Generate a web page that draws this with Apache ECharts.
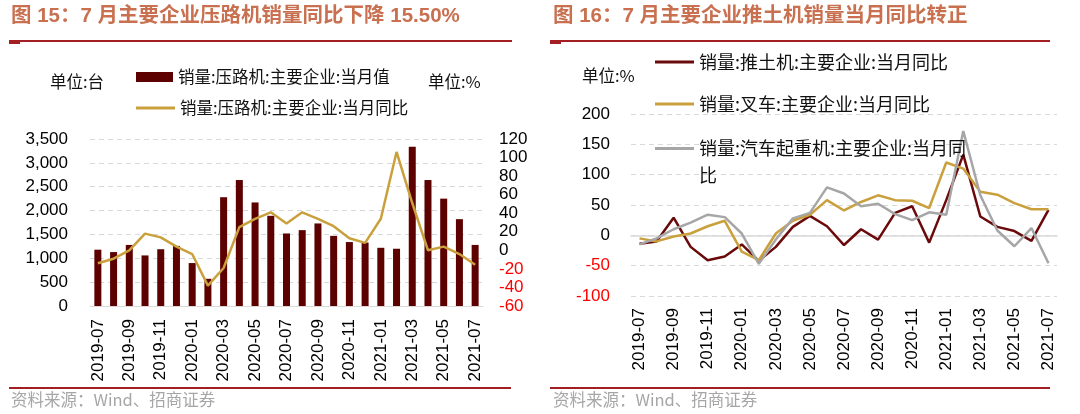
<!DOCTYPE html>
<html>
<head>
<meta charset="utf-8">
<script src="https://cdn.jsdelivr.net/npm/echarts@6/dist/echarts.min.js"></script>
<style>
  html, body { margin: 0; padding: 0; background: #fff; }
  #main { width: 1080px; height: 414px; }
</style>
</head>
<body>
<div id="main"></div>
<script>
// 月份
var months = ['2019-07','2019-08','2019-09','2019-10','2019-11','2019-12','2020-01','2020-02','2020-03','2020-04','2020-05','2020-06','2020-07','2020-08','2020-09','2020-10','2020-11','2020-12','2021-01','2021-02','2021-03','2021-04','2021-05','2021-06','2021-07'];

// 图15 压路机
var rollerSales = [1180, 1130, 1280, 1060, 1190, 1260, 900, 570, 2280, 2640, 2170, 1890, 1520, 1590, 1730, 1470, 1340, 1330, 1220, 1200, 3340, 2640, 2250, 1820, 1280];
var rollerYoy = [-14, -9, 0, 18, 14, 4, -4, -38, -19, 25, 34, 41, 29, 41, 34, 26, 13, 8, 34, 106, 51, 0, 4, -4, -15.5];

// 图16 推土机 / 叉车 / 汽车起重机
var dozerYoy = [-14, -10, 29, -19, -41, -35, -15, -42, -19, 14, 32, 15, -16, 10, -7, 37, 48, -12, 58, 133, 31, 14, 7, -9, 42];
var forkliftYoy = [-5, -10, -2, 3, 15, 24, -27, -41, 3, 24, 34, 58, 41, 55, 66, 58, 57, 45, 120, 110, 72, 67, 53, 43, 43];
var craneYoy = [-15, -5, 10, 21, 34, 30, 3, -47, -7, 28, 37, 79, 69, 48, 52, 35, 25, 38, 34, 172, 66, 8, -18, 12, -46];

var names = {
  rollerSales: '销量:压路机:主要企业:当月值',
  rollerYoy: '销量:压路机:主要企业:当月同比',
  dozer: '销量:推土机:主要企业:当月同比',
  forklift: '销量:叉车:主要企业:当月同比',
  crane: '销量:汽车起重机:主要企业:当月同比'
};

var NUM_FONT = 'Liberation Sans, Arial, Noto Sans CJK SC';
var CJK_FONT = 'Noto Sans CJK SC';
var RED_LINE = '#a31f24';
var GRID_LINE = '#d9d9d9';
var GOLD = '#c9a03c';
var MAROON = '#5c0000';

function negRed(v) {
  return Number(v) < 0 ? '#ff0000' : '#000000';
}

var monthLabel = {
  rotate: 90,
  interval: 1,
  fontSize: 17,
  fontFamily: NUM_FONT,
  color: '#000',
  margin: 12
};

// 图例：线条用细矩形表示
function lineLegend(name, left, top, size, lh) {
  return {
    data: [name],
    left: left, top: top, orient: 'vertical',
    icon: 'rect', itemWidth: 39, itemHeight: 3,
    textStyle: { fontSize: size, lineHeight: lh, fontFamily: CJK_FONT, color: '#111' }
  };
}

var chart = echarts.init(document.getElementById('main'), null, { renderer: 'canvas' });

var craneLegend = lineLegend(names.crane, 650, 103, 18, 27);
// 第三项换行，空首行让图标对齐第一行文字
craneLegend.formatter = function (name) {
  return '\n' + name.slice(0, name.length - 1) + '\n' + name.slice(name.length - 1);
};

var option = {
  backgroundColor: '#ffffff',
  animation: false,
  grid: [
    { left: 90, right: 597, top: 139, bottom: 108 },
    { left: 631, right: 23, top: 114, bottom: 118 }
  ],
  xAxis: [
    {
      gridIndex: 0,
      type: 'category',
      data: months,
      boundaryGap: true,
      axisLine: { onZero: false, lineStyle: { color: GRID_LINE, width: 1 } },
      axisTick: { interval: 1, length: 5, lineStyle: { color: GRID_LINE } },
      axisLabel: Object.assign({}, monthLabel, { margin: 13 }),
      splitLine: { show: false }
    },
    {
      // 右图：标签在底部
      gridIndex: 1,
      type: 'category',
      data: months,
      position: 'bottom',
      boundaryGap: true,
      axisLine: { show: false, onZero: false },
      axisTick: { show: false },
      axisLabel: monthLabel,
      splitLine: { show: false }
    },
    {
      // 右图：零轴
      gridIndex: 1,
      type: 'category',
      data: months,
      position: 'bottom',
      boundaryGap: true,
      axisLine: { onZero: true, lineStyle: { color: GRID_LINE, width: 1.5 } },
      axisTick: { interval: 1, length: 4, lineStyle: { color: GRID_LINE } },
      axisLabel: { show: false },
      splitLine: { show: false }
    }
  ],
  yAxis: [
    {
      gridIndex: 0,
      type: 'value',
      min: 0,
      max: 3500,
      interval: 500,
      axisLine: { show: false },
      axisTick: { show: false },
      axisLabel: {
        fontSize: 17,
        fontFamily: NUM_FONT,
        color: '#000',
        margin: 22,
        formatter: function (v) { return echarts.format.addCommas(v); }
      },
      splitLine: { lineStyle: { color: GRID_LINE, type: [5, 4] } }
    },
    {
      gridIndex: 0,
      type: 'value',
      position: 'right',
      min: -60,
      max: 120,
      interval: 20,
      axisLine: { show: false },
      axisTick: { show: false },
      axisLabel: { fontSize: 17, fontFamily: NUM_FONT, color: negRed, margin: 16 },
      splitLine: { show: false }
    },
    {
      gridIndex: 1,
      type: 'value',
      min: -100,
      max: 200,
      interval: 50,
      axisLine: { show: false },
      axisTick: { show: false },
      axisLabel: { fontSize: 17, fontFamily: NUM_FONT, color: negRed, margin: 21 },
      splitLine: { lineStyle: { color: GRID_LINE, type: [5, 4] } }
    }
  ],
  legend: [
    {
      data: [names.rollerSales],
      left: 131, top: 62, orient: 'vertical',
      icon: 'rect', itemWidth: 37, itemHeight: 10,
      textStyle: { fontSize: 16.5, lineHeight: 20, fontFamily: CJK_FONT, color: '#111' }
    },
    lineLegend(names.rollerYoy, 131, 93, 16.5, 20),
    lineLegend(names.dozer, 650, 47, 18, 20),
    lineLegend(names.forklift, 650, 89, 18, 20),
    craneLegend
  ],
  series: [
    {
      name: names.rollerSales,
      type: 'bar',
      xAxisIndex: 0,
      yAxisIndex: 0,
      barWidth: 7,
      itemStyle: { color: MAROON },
      data: rollerSales
    },
    {
      name: names.rollerYoy,
      type: 'line',
      xAxisIndex: 0,
      yAxisIndex: 1,
      symbol: 'none',
      lineStyle: { color: GOLD, width: 2.5 },
      itemStyle: { color: GOLD },
      data: rollerYoy
    },
    {
      name: names.dozer,
      type: 'line',
      xAxisIndex: 1,
      yAxisIndex: 2,
      symbol: 'none',
      lineStyle: { color: '#6a0a0a', width: 2.5 },
      itemStyle: { color: '#6a0a0a' },
      data: dozerYoy
    },
    {
      name: names.forklift,
      type: 'line',
      xAxisIndex: 1,
      yAxisIndex: 2,
      symbol: 'none',
      lineStyle: { color: GOLD, width: 2.5 },
      itemStyle: { color: GOLD },
      data: forkliftYoy
    },
    {
      name: names.crane,
      type: 'line',
      xAxisIndex: 1,
      yAxisIndex: 2,
      symbol: 'none',
      lineStyle: { color: '#a6a6a6', width: 2.5 },
      itemStyle: { color: '#a6a6a6' },
      data: craneYoy
    }
  ],
  graphic: [
    // 标题
    {
      type: 'text', left: 11, top: 6,
      style: { text: '图 15：7 月主要企业压路机销量同比下降 15.50%', fill: '#c8704f', font: 'bold 20.5px ' + NUM_FONT }
    },
    {
      type: 'text', left: 553, top: 6,
      style: { text: '图 16：7 月主要企业推土机销量当月同比转正', fill: '#c8704f', font: 'bold 20.5px ' + NUM_FONT }
    },
    // 标题下红线
    { type: 'rect', shape: { x: 9, y: 40, width: 503, height: 2 }, style: { fill: RED_LINE } },
    { type: 'rect', shape: { x: 9, y: 41, width: 11, height: 3 }, style: { fill: RED_LINE } },
    { type: 'rect', shape: { x: 550, y: 40, width: 500, height: 2 }, style: { fill: RED_LINE } },
    { type: 'rect', shape: { x: 550, y: 41, width: 11, height: 3 }, style: { fill: RED_LINE } },
    // 底部红线
    { type: 'rect', shape: { x: 9, y: 387, width: 502, height: 2 }, style: { fill: RED_LINE } },
    { type: 'rect', shape: { x: 550, y: 387, width: 500, height: 2 }, style: { fill: RED_LINE } },
    // 单位
    {
      type: 'text', left: 50, top: 73,
      style: { text: '单位:台', fill: '#111', font: '16.5px ' + CJK_FONT }
    },
    {
      type: 'text', left: 428, top: 73,
      style: { text: '单位:%', fill: '#111', font: '16.5px ' + CJK_FONT }
    },
    {
      type: 'text', left: 582, top: 67,
      style: { text: '单位:%', fill: '#111', font: '16.5px ' + CJK_FONT }
    },
    // 资料来源
    {
      type: 'text', left: 11, top: 391,
      style: { text: '资料来源：Wind、招商证券', fill: '#a6a6a6', font: '16.5px ' + CJK_FONT }
    },
    {
      type: 'text', left: 553, top: 391,
      style: { text: '资料来源：Wind、招商证券', fill: '#a6a6a6', font: '16.5px ' + CJK_FONT }
    }
  ]
};

chart.setOption(option);
</script>
</body>
</html>
